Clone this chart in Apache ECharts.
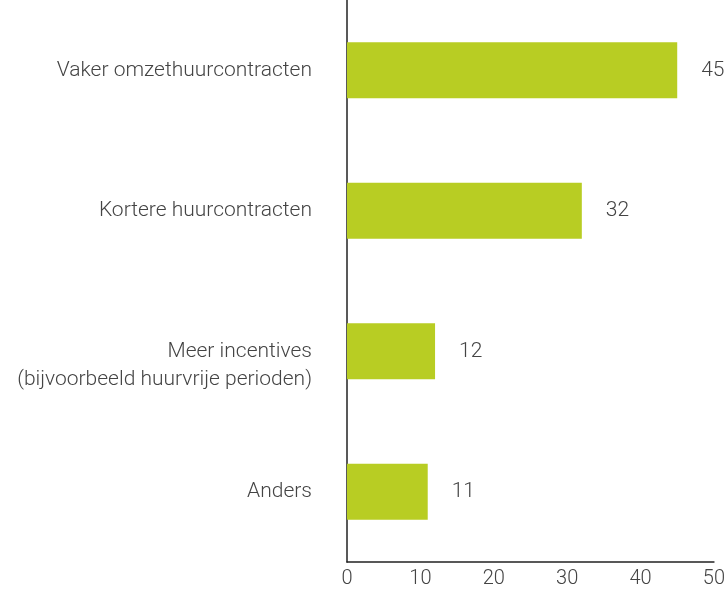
<!DOCTYPE html>
<html>
<head>
<meta charset="utf-8">
<script src="https://cdn.jsdelivr.net/npm/echarts@6/dist/echarts.min.js"></script>
<style>
    html, body { margin: 0; padding: 0; background: #fff; }
    #chart { width: 728px; height: 589px; }
</style>
</head>
<body>
<div id="chart"></div>
<script>
// categories top to bottom
var categories = [
    "Vaker omzethuurcontracten",
    "Kortere huurcontracten",
    "Meer incentives\n(bijvoorbeeld huurvrije perioden)",
    "Anders"
];
var values = [45, 32, 12, 11];
var xTicks = [0, 10, 20, 30, 40, 50];

var myChart = echarts.init(document.getElementById("chart"));

var option = {
    animation: false,
    textStyle: { fontFamily: "Roboto", fontWeight: 300 },
    grid: {
        left: 347,
        right: 13,
        top: 0,
        bottom: 23,
        containLabel: false
    },
    xAxis: {
        type: "value",
        min: xTicks[0],
        max: xTicks[xTicks.length - 1],
        interval: 10,
        splitLine: { show: false },
        axisTick: { show: false },
        axisLine: { show: true, lineStyle: { color: "#222", width: 1.5 } },
        axisLabel: {
            color: "#444",
            fontSize: 20,
            fontFamily: "Roboto",
            fontWeight: 300,
            margin: 7
        }
    },
    yAxis: {
        type: "category",
        inverse: true,
        data: categories,
        axisTick: { show: false },
        axisLine: { show: true, onZero: false, lineStyle: { color: "#222", width: 1.5 } },
        axisLabel: {
            color: "#444",
            fontSize: 21,
            fontFamily: "Roboto",
            fontWeight: 300,
            margin: 35,
            lineHeight: 28,
            align: "right",
            // two-line labels keep their first line level with the bar
            formatter: function (value) {
                return value.indexOf("\n") >= 0 ? "\n" + value : value;
            }
        }
    },
    series: [
        {
            type: "bar",
            data: values,
            barWidth: 56,
            itemStyle: { color: "#b8cd23" },
            label: {
                show: true,
                position: "right",
                distance: 24,
                color: "#444",
                fontSize: 21,
                fontFamily: "Roboto",
                fontWeight: 300
            }
        }
    ]
};

myChart.setOption(option);
</script>
</body>
</html>
